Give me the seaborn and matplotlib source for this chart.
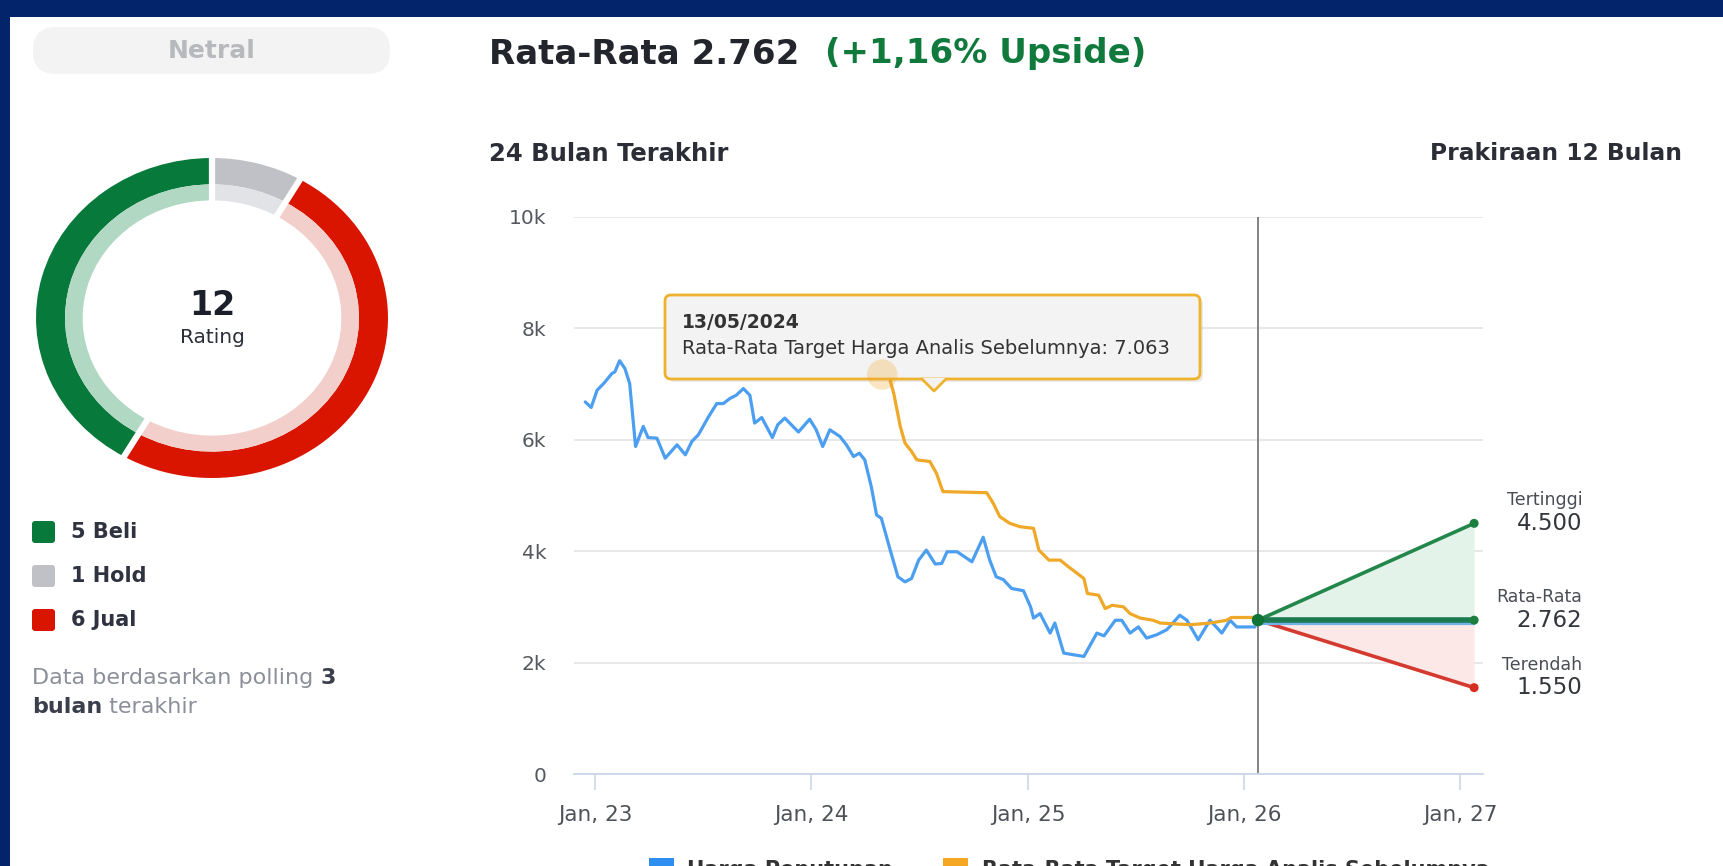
import numpy as np
import pandas as pd
import matplotlib
matplotlib.use("Agg")
import matplotlib.pyplot as plt
import matplotlib.patheffects as pe
from matplotlib.patches import FancyBboxPatch, Rectangle, Polygon
import seaborn as sns

# ---------------- data ----------------
close_dates = ['2022-12-15', '2022-12-25', '2023-01-04', '2023-01-15', '2023-01-29', '2023-02-03',
               '2023-02-11', '2023-02-20', '2023-02-28', '2023-03-10', '2023-03-23', '2023-03-31',
               '2023-04-15', '2023-04-29', '2023-05-19', '2023-06-02', '2023-06-13', '2023-06-24',
               '2023-07-11', '2023-07-25', '2023-08-05', '2023-08-16', '2023-08-27', '2023-09-08',
               '2023-09-19', '2023-09-27', '2023-10-09', '2023-10-27', '2023-11-05', '2023-11-17',
               '2023-12-10', '2023-12-29', '2024-01-09', '2024-01-20', '2024-02-01', '2024-02-18',
               '2024-02-29', '2024-03-12', '2024-03-22', '2024-03-31', '2024-04-11', '2024-04-20',
               '2024-04-28', '2024-05-13', '2024-05-26', '2024-06-07', '2024-06-18', '2024-06-30',
               '2024-07-13', '2024-07-28', '2024-08-08', '2024-08-17', '2024-09-03', '2024-09-28',
               '2024-10-07', '2024-10-17', '2024-10-28', '2024-11-08', '2024-11-20', '2024-12-04',
               '2024-12-24', '2025-01-05', '2025-01-10', '2025-01-21', '2025-02-07', '2025-02-15',
               '2025-03-02', '2025-03-19', '2025-04-05', '2025-04-16', '2025-04-27', '2025-05-09',
               '2025-05-28', '2025-06-08', '2025-06-22', '2025-07-06', '2025-07-20', '2025-08-06',
               '2025-08-23', '2025-09-14', '2025-09-26', '2025-10-15', '2025-11-04', '2025-11-24',
               '2025-12-08', '2025-12-19', '2026-01-19']
close_values = [6680, 6580, 6890, 7010, 7190, 7220, 7420, 7280, 7010, 5880, 6240, 6040,
                6030, 5670, 5910, 5730, 5970, 6090, 6410, 6650, 6650, 6740, 6800, 6920,
                6800, 6300, 6400, 6040, 6270, 6390, 6140, 6370, 6180, 5880, 6180, 6060,
                5910, 5700, 5760, 5640, 5160, 4650, 4590, 4020, 3540, 3450, 3510, 3840,
                4020, 3770, 3780, 3990, 3990, 3810, 4020, 4250, 3840, 3540, 3490, 3330,
                3290, 3000, 2800, 2880, 2530, 2710, 2170, 2140, 2110, 2320, 2530, 2480,
                2760, 2760, 2530, 2640, 2440, 2500, 2590, 2850, 2760, 2410, 2760, 2530,
                2760, 2640, 2640]

target_dates = ['2024-05-13', '2024-05-19', '2024-05-30', '2024-06-07', '2024-06-18', '2024-06-27',
                '2024-07-19', '2024-07-30', '2024-08-10', '2024-10-23', '2024-11-03', '2024-11-14',
                '2024-12-01', '2024-12-18', '2025-01-10', '2025-01-19', '2025-02-05', '2025-02-24',
                '2025-03-10', '2025-03-25', '2025-04-05', '2025-04-11', '2025-04-30', '2025-05-11',
                '2025-05-23', '2025-06-11', '2025-06-22', '2025-07-09', '2025-07-31', '2025-08-12',
                '2025-10-02', '2025-11-04', '2025-12-02', '2025-12-10', '2026-01-22']
target_values = [7063, 6830, 6240, 5940, 5790, 5640, 5610, 5400, 5070, 5050, 4860, 4620,
                 4500, 4440, 4410, 4020, 3840, 3840, 3720, 3600, 3510, 3240, 3210, 2970,
                 3030, 3000, 2880, 2800, 2760, 2710, 2680, 2710, 2760, 2810, 2810]

rating_labels = ['Hold', 'Jual', 'Beli']
rating_counts = [1, 6, 5]
legend_order = ['Beli', 'Hold', 'Jual']

forecast_labels = ['Tertinggi', 'Rata-Rata', 'Terendah']
forecast_values = [4500, 2762, 1550]
today = '2026-01-24'
forecast_end = '2027-01-24'
upside_pct = 1.16

hover_date = '2024-05-13'
hover_value = 7063

year_ticks = ['2023-01-01', '2024-01-01', '2025-01-01', '2026-01-01', '2027-01-01']
year_tick_labels = ['Jan, 23', 'Jan, 24', 'Jan, 25', 'Jan, 26', 'Jan, 27']
y_ticks = [0, 2000, 4000, 6000, 8000, 10000]
y_tick_labels = ['0', '2k', '4k', '6k', '8k', '10k']
x_range = ['2022-11-26', '2027-02-08']

# ---------------- style ----------------
sns.set_style('white')
plt.rcParams['font.family'] = ['DejaVu Sans']

W, H = 1724, 866
fig = plt.figure(figsize=(W / 100, H / 100), dpi=100, facecolor='#03236b')


def fx(x):
    return x / W


def fy(y):
    return 1 - y / H


def idn(v):
    return f"{int(v):,}".replace(',', '.')


# background axes (pixel coordinates)
bg = fig.add_axes([0, 0, 1, 1], zorder=-2)
bg.set_xlim(0, W)
bg.set_ylim(H, 0)
bg.axis('off')
bg.add_patch(Rectangle((10, 17), W, H, facecolor='white', edgecolor='none'))

# overlay axes (pixel coordinates)
ov = fig.add_axes([0, 0, 1, 1], zorder=5)
ov.set_xlim(0, W)
ov.set_ylim(H, 0)
ov.axis('off')
ov.patch.set_alpha(0)

# ---------------- left panel ----------------
ov.add_patch(FancyBboxPatch((33, 27), 357, 47, boxstyle='round,pad=0,rounding_size=23',
                            facecolor='#f3f3f4', edgecolor='none'))
ov.text(212, 51, 'Netral', ha='center', va='center', fontsize=18, fontweight='bold', color='#b8b9bd')

dark_cols = {'Beli': '#07793a', 'Hold': '#bfc1c6', 'Jual': '#d91500'}
light_cols = {'Beli': '#b0d8c3', 'Hold': '#e2e3e6', 'Jual': '#f3cfcc'}

dax = fig.add_axes([fx(212 - 176), fy(318 + 160), 352 / W, 320 / H], zorder=1)
dax.pie(rating_counts, colors=[dark_cols[l] for l in rating_labels], startangle=90,
        counterclock=False, radius=1.0, wedgeprops=dict(width=0.165, edgecolor='none'))
dax.pie(rating_counts, colors=[light_cols[l] for l in rating_labels], startangle=90,
        counterclock=False, radius=0.835, wedgeprops=dict(width=0.1, edgecolor='none'))
cum = np.cumsum([0] + rating_counts[:-1])
for c in cum:
    ang = np.deg2rad(90 - 360 * c / sum(rating_counts))
    dax.plot([0.6 * np.cos(ang), 1.05 * np.cos(ang)], [0.6 * np.sin(ang), 1.05 * np.sin(ang)],
             color='white', lw=4.5, solid_capstyle='butt')
dax.set_aspect('auto')
dax.set_xlim(-1, 1)
dax.set_ylim(-1, 1)
dax.axis('off')
dax.text(0, 0.08, str(sum(rating_counts)), ha='center', va='center', fontsize=24,
         fontweight='bold', color='#1b1f2b')
dax.text(0, -0.12, 'Rating', ha='center', va='center', fontsize=14.5, color='#2b2f3a')

count_map = dict(zip(rating_labels, rating_counts))
for i, lab in enumerate(legend_order):
    yc = 532 + i * 44
    ov.add_patch(FancyBboxPatch((32, yc - 11), 23, 22, boxstyle='round,pad=0,rounding_size=3',
                                facecolor=dark_cols[lab], edgecolor='none'))
    ov.text(71, yc, f"{count_map[lab]} {lab}", ha='left', va='center', fontsize=15,
            fontweight='bold', color='#2f3340')

renderer = fig.canvas.get_renderer()


def seq_text(x, y, parts):
    for txt, bold in parts:
        t = ov.text(x, y, txt, ha='left', va='center', fontsize=16,
                    fontweight='bold' if bold else 'normal',
                    color='#3a3f4c' if bold else '#8b8f99')
        bb = t.get_window_extent(renderer)
        x = x + bb.width


seq_text(32, 678, [('Data berdasarkan polling ', False), ('3', True)])
seq_text(32, 707, [('bulan', True), (' terakhir', False)])

# ---------------- headings ----------------
t = ov.text(489, 54, f"Rata-Rata {idn(forecast_values[1])}", ha='left', va='center', fontsize=24.5,
            fontweight='bold', color='#22252b')
bb = t.get_window_extent(renderer)
ov.text(489 + bb.width + 26, 54, f"(+{upside_pct:.2f}% Upside)".replace('.', ','), ha='left',
        va='center', fontsize=24.5, fontweight='bold', color='#0f7a3b')
ov.text(489, 154, '24 Bulan Terakhir', ha='left', va='center', fontsize=17.5, fontweight='bold',
        color='#2b2e36')
ov.text(1682, 154, 'Prakiraan 12 Bulan', ha='right', va='center', fontsize=16.8, fontweight='bold',
        color='#2b2e36')

# ---------------- main chart ----------------
ax = fig.add_axes([fx(574), fy(774), fx(1483) - fx(574), fy(217) - fy(774)], zorder=1)
ax.patch.set_alpha(0)

close_df = pd.DataFrame({'date': pd.to_datetime(close_dates), 'value': close_values})
target_df = pd.DataFrame({'date': pd.to_datetime(target_dates), 'value': target_values})

sns.lineplot(data=close_df, x='date', y='value', ax=ax, color='#4b9ef0', lw=2.3, zorder=3)
sns.lineplot(data=target_df, x='date', y='value', ax=ax, color='#f0a828', lw=2.3, zorder=3)

t0 = pd.Timestamp(today)
t1 = pd.Timestamp(forecast_end)
fc_x = [t0, t1]
hi, mean, lo = forecast_values
ax.fill_between(fc_x, [mean, mean], [mean, hi], color='#e4f3ea', lw=0, zorder=1)
ax.fill_between(fc_x, [mean, lo], [mean, mean], color='#fbe8e7', lw=0, zorder=1)
ax.axvline(t0, color='#7a7a7a', lw=1.3, zorder=2)
sns.lineplot(x=fc_x, y=[mean, hi], ax=ax, color='#23874c', lw=2.6, zorder=4)
sns.lineplot(x=fc_x, y=[mean, lo], ax=ax, color='#d43a2f', lw=2.6, zorder=4)
ax.plot(fc_x, [mean, mean], color='#1d7a50', lw=4, zorder=5,
        path_effects=[pe.Stroke(linewidth=3, foreground='#6fb2ea', offset=(0, -2)), pe.Normal()])
ax.scatter([t1, t1], [hi, mean], s=42, color='#1a7f3f', zorder=6, edgecolor='none')
ax.scatter([t1], [lo], s=42, color='#d62d20', zorder=6, edgecolor='none')
ax.scatter([t0], [mean], s=80, color='#0e7435', zorder=6, edgecolor='none')

for lab, val in zip(forecast_labels, forecast_values):
    ax.annotate(idn(val), xy=(t1, val), xytext=(78, 0), textcoords='offset points', ha='right',
                va='center', fontsize=16.5, color='#33363d')
    ax.annotate(lab, xy=(t1, val), xytext=(78, 16.5), textcoords='offset points', ha='right',
                va='center', fontsize=12.5, color='#4a4d55')

ax.set_xlim(pd.Timestamp(x_range[0]), pd.Timestamp(x_range[1]))
ax.set_ylim(0, 10000)
ax.set_yticks(y_ticks)
ax.set_yticklabels(y_tick_labels)
ax.set_xticks(pd.to_datetime(year_ticks))
ax.set_xticklabels(year_tick_labels)
ax.set_xlabel('')
ax.set_ylabel('')
ax.grid(axis='y', color='#e6e6e6', lw=1.3)
ax.grid(axis='x', visible=False)
for s in ['top', 'right', 'left']:
    ax.spines[s].set_visible(False)
ax.spines['bottom'].set_color('#ccd6eb')
ax.spines['bottom'].set_linewidth(1.3)
ax.tick_params(axis='y', length=0, pad=20, labelsize=14.5, labelcolor='#55585f')
ax.tick_params(axis='x', length=11.5, width=1.2, color='#ccd6eb', direction='out', pad=11,
               labelsize=15.5, labelcolor='#4e5158', bottom=True)

# ---------------- tooltip ----------------
ov.add_patch(FancyBboxPatch((668, 298), 535, 84, boxstyle='round,pad=0,rounding_size=6',
                            facecolor='#000000', alpha=0.08, edgecolor='none'))
ov.add_patch(FancyBboxPatch((665, 295), 535, 84, boxstyle='round,pad=0,rounding_size=6',
                            facecolor='#f3f3f3', edgecolor='#efb22e', lw=2))
ov.add_patch(Polygon([(922, 378), (934, 390), (946, 378)], closed=True, facecolor='#f3f3f3',
                     edgecolor='none'))
ov.plot([922, 934, 946], [379, 391, 379], color='#efb22e', lw=2)
hd = pd.Timestamp(hover_date)
ov.text(682, 323, hd.strftime('%d/%m/%Y'), ha='left', va='center', fontsize=13.5,
        fontweight='bold', color='#333333')
ov.text(682, 349, f"Rata-Rata Target Harga Analis Sebelumnya: {idn(hover_value)}", ha='left',
        va='center', fontsize=14, color='#333333')

# hover halo, positioned from data
px, py = ax.transData.transform((matplotlib.dates.date2num(hd), hover_value))
ov.scatter([px - 8], [H - py - 6], s=480, color='#f0a828', alpha=0.28, edgecolor='none')

# ---------------- bottom legend (cut off by the page edge, as in the source) ----------------
ov.add_patch(Rectangle((649, 858), 25, 14, facecolor='#2f8ff0', edgecolor='none'))
ov.text(687, 860, 'Harga Penutupan', ha='left', va='top', fontsize=15, fontweight='bold',
        color='#333333')
ov.add_patch(Rectangle((943, 858), 25, 14, facecolor='#f5a623', edgecolor='none'))
ov.text(982, 860, 'Rata-Rata Target Harga Analis Sebelumnya', ha='left', va='top', fontsize=15,
        fontweight='bold', color='#333333')

fig.savefig('out.png', dpi=100, facecolor=fig.get_facecolor())
